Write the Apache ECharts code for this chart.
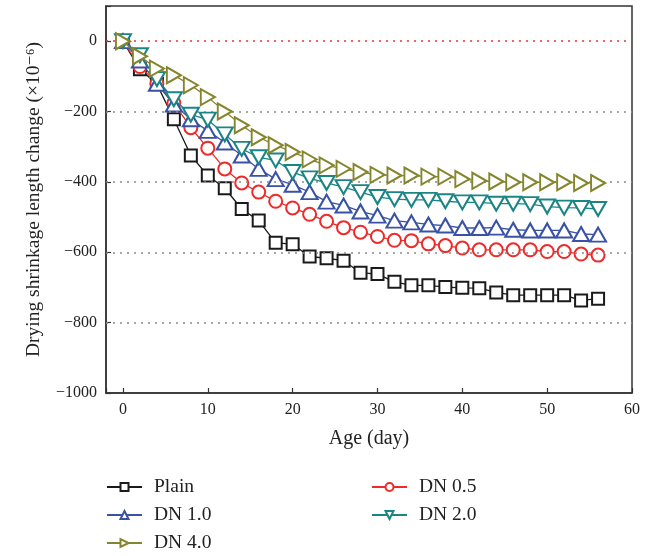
<!DOCTYPE html>
<html>
<head>
<meta charset="utf-8">
<script src="https://cdn.jsdelivr.net/npm/echarts@6/dist/echarts.min.js"></script>
<style>
html,body{margin:0;padding:0;background:#fff;}
#chart{width:650px;height:556px;}
</style>
</head>
<body>
<div id="chart"></div>
<script>
const days = [0,2,4,6,8,10,12,14,16,18,20,22,24,26,28,30,32,34,36,38,40,42,44,46,48,50,52,54,56];
const plain = [0,-80,-122,-222,-325,-382,-418,-477,-510,-573,-577,-612,-617,-624,-658,-662,-684,-694,-694,-699,-701,-702,-714,-722,-722,-722,-722,-737,-732];
const dn05 = [0,-72,-120,-176,-246,-304,-363,-403,-429,-455,-474,-492,-512,-530,-543,-555,-566,-567,-576,-581,-588,-593,-593,-593,-593,-598,-598,-605,-608];
const dn10 = [0,-55,-121,-180,-222,-255,-288,-325,-363,-392,-408,-429,-456,-467,-484,-496,-510,-515,-521,-524,-531,-531,-530,-536,-538,-538,-538,-548,-550];
const dn20 = [0,-40,-108,-165,-209,-223,-265,-306,-330,-339,-372,-390,-403,-415,-429,-443,-449,-451,-451,-455,-458,-458,-462,-462,-463,-470,-473,-474,-477];
const dn40 = [0,-43,-78,-97,-125,-159,-200,-239,-273,-296,-315,-336,-353,-363,-372,-380,-382,-382,-385,-385,-392,-397,-399,-401,-401,-401,-401,-403,-403];
const yTicks = [0,-200,-400,-600,-800];

const FONT = '"Liberation Serif","DejaVu Serif",serif';
function pairs(arr){ return days.map((d,i)=>[d, arr[i]]); }

const seriesDefs = [
  {name:'Plain', data:plain, color:'#1a1a1a', symbol:'emptyRect', size:[12,12], rot:0},
  {name:'DN 0.5', data:dn05, color:'#ee2a2a', symbol:'emptyCircle', size:[13,13], rot:0},
  {name:'DN 1.0', data:dn10, color:'#3a52a6', symbol:'emptyTriangle', size:[16,14], rot:0},
  {name:'DN 2.0', data:dn20, color:'#1b8585', symbol:'emptyTriangle', size:[16,14], rot:180},
  {name:'DN 4.0', data:dn40, color:'#85852e', symbol:'emptyTriangle', size:[16,14], rot:-90}
];

const series = [{
  type:'line', data:[], silent:true, z:1,
  markLine:{
    silent:true, symbol:'none', label:{show:false},
    data: yTicks.map(v=>({yAxis:v, lineStyle:{color: v===0 ? '#e03a3a' : '#8a8a8a', type:[2,5], width:1.5}}))
  }
}].concat(seriesDefs.map((s,i)=>({
  name:s.name, type:'line', data:pairs(s.data), z:2+i,
  symbol:s.symbol, symbolSize:s.size, symbolRotate:s.rot,
  lineStyle:{color:s.color, width:1.3},
  itemStyle:{color:s.color, borderColor:s.color, borderWidth:1.5},
  animation:false
})));

const chart = echarts.init(document.getElementById('chart'), null, {renderer:'canvas'});
chart.setOption({
  animation:false,
  backgroundColor:'#fff',
  grid:{left:106, right:18, top:6, bottom:163, show:true, borderColor:'#333', borderWidth:1.5, backgroundColor:'transparent'},
  xAxis:{
    type:'value', min:-2, max:60, minInterval:10, maxInterval:10,
    name:'Age (day)', nameLocation:'middle', nameGap:36,
    nameTextStyle:{fontFamily:FONT, fontSize:20, color:'#222'},
    axisLine:{show:true, onZero:false, lineStyle:{color:'#333', width:1.5}},
    axisTick:{show:true, inside:true, length:5, lineStyle:{color:'#333', width:1.2}},
    axisLabel:{fontFamily:FONT, fontSize:16, color:'#222', margin:9,
      formatter:v=> (v % 10 === 0 ? String(v) : '')},
    splitLine:{show:false}
  },
  yAxis:{
    type:'value', min:-1000, max:100, interval:200,
    name:'Drying shrinkage length change (×10⁻⁶)', nameLocation:'middle', nameGap:62,
    nameTextStyle:{fontFamily:FONT, fontSize:19.5, color:'#222'},
    axisLine:{show:true, onZero:false, lineStyle:{color:'#333', width:1.5}},
    axisTick:{show:true, inside:true, length:5, lineStyle:{color:'#333', width:1.2}},
    axisLabel:{fontFamily:FONT, fontSize:16, color:'#222', margin:9,
      formatter:v=> (v > 0 ? '' : String(v).replace('-', '\u2212'))},
    splitLine:{show:false}
  },
  legend:[
    {orient:'vertical', left:106, top:477, padding:0, itemWidth:35, itemHeight:10, itemGap:8,
     data:['Plain','DN 1.0','DN 4.0'],
     textStyle:{fontFamily:FONT, fontSize:19.5, color:'#222', padding:[0,0,0,7]}},
    {orient:'vertical', left:371, top:477, padding:0, itemWidth:35, itemHeight:10, itemGap:8,
     data:['DN 0.5','DN 2.0'],
     textStyle:{fontFamily:FONT, fontSize:19.5, color:'#222', padding:[0,0,0,7]}}
  ],
  series:series
});
</script>
</body>
</html>
